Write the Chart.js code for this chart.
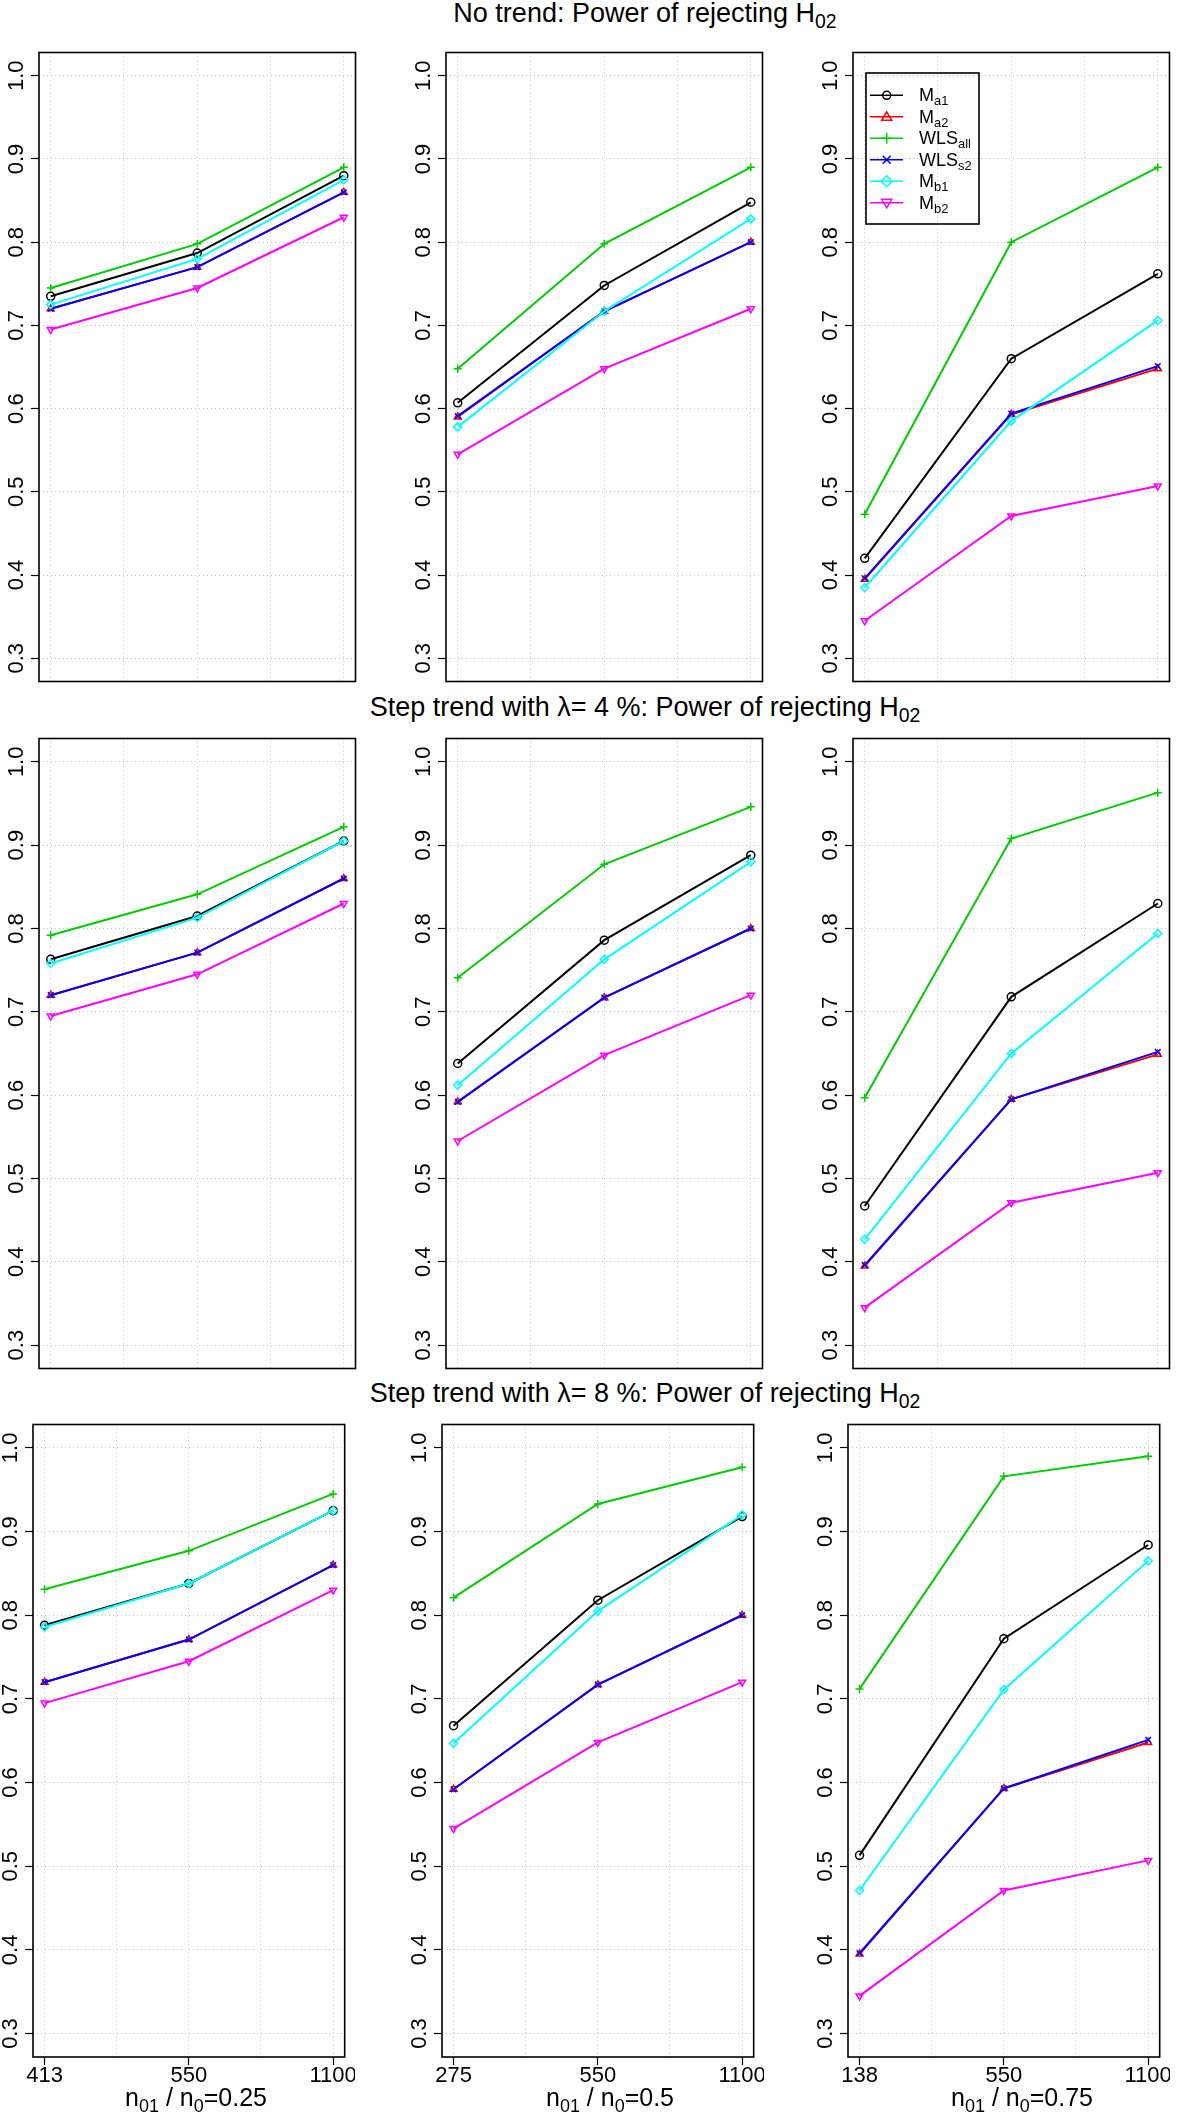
<!DOCTYPE html>
<html>
<head>
<meta charset="utf-8">
<script src="https://cdn.jsdelivr.net/npm/chart.js@4.4.1/dist/chart.umd.min.js"></script>
<style>
  body { margin: 0; background: #fff; width: 1181px; height: 2112px; position: relative; overflow: hidden;
         font-family: "Liberation Sans", Arial, Helvetica, sans-serif; color: #000; }
  canvas { position: absolute; }
  .rowTitle { position: absolute; font-size: 27px; line-height: 1; white-space: nowrap; transform: translateX(-50%); }
  .xTitle   { position: absolute; font-size: 25px; line-height: 1; white-space: nowrap; transform: translateX(-50%); }
  .legLabel { position: absolute; font-size: 18px; line-height: 1; white-space: nowrap; }
  sub { font-size: 72%; vertical-align: baseline; position: relative; top: 0.32em; line-height: 0; }
  #legend { position: absolute; }
</style>
</head>
<body>
<script>
'use strict';

// ── DATA ─────────────────────────────────────────────────────────
// panels in reading order: row 1 (no trend), row 2 (λ=4%), row 3 (λ=8%); columns n01/n0 = 0.25, 0.5, 0.75
var rowTitles   = ['No trend: Power of rejecting H<sub>02</sub>',
                   'Step trend with λ= 4 %: Power of rejecting H<sub>02</sub>',
                   'Step trend with λ= 8 %: Power of rejecting H<sub>02</sub>'];
var ratioLabels = ['0.25', '0.5', '0.75'];
var xTickLabels = [['413', '550', '1100'], ['275', '550', '1100'], ['138', '550', '1100']];
var yTicks      = [0.3, 0.4, 0.5, 0.6, 0.7, 0.8, 0.9, 1.0];
var xGrid       = [1, 1.5, 2, 2.5, 3];

var Ma1 = [
  [0.735, 0.787, 0.880], [0.607, 0.748, 0.848], [0.420, 0.660, 0.762],
  [0.763, 0.815, 0.905], [0.638, 0.786, 0.888], [0.467, 0.718, 0.830],
  [0.788, 0.838, 0.925], [0.668, 0.818, 0.918], [0.513, 0.772, 0.884]
];
var Ma2 = [
  [0.720, 0.770, 0.860], [0.590, 0.717, 0.800], [0.395, 0.593, 0.648],
  [0.720, 0.771, 0.860], [0.592, 0.717, 0.800], [0.395, 0.595, 0.649],
  [0.720, 0.771, 0.860], [0.592, 0.717, 0.800], [0.395, 0.593, 0.648]
];
var WLSall = [
  [0.745, 0.798, 0.890], [0.648, 0.798, 0.890], [0.473, 0.800, 0.890],
  [0.792, 0.841, 0.922], [0.741, 0.877, 0.946], [0.597, 0.908, 0.963],
  [0.831, 0.877, 0.945], [0.821, 0.933, 0.977], [0.712, 0.966, 0.990]
];
var WLSs2 = [
  [0.720, 0.770, 0.860], [0.591, 0.717, 0.800], [0.396, 0.594, 0.651],
  [0.720, 0.771, 0.860], [0.592, 0.717, 0.800], [0.396, 0.595, 0.652],
  [0.720, 0.771, 0.860], [0.592, 0.717, 0.800], [0.396, 0.593, 0.651]
];
var Mb1 = [
  [0.725, 0.780, 0.875], [0.578, 0.717, 0.828], [0.385, 0.585, 0.706],
  [0.758, 0.813, 0.905], [0.612, 0.763, 0.880], [0.427, 0.650, 0.794],
  [0.786, 0.838, 0.925], [0.647, 0.805, 0.920], [0.471, 0.711, 0.865]
];
var Mb2 = [
  [0.695, 0.745, 0.830], [0.545, 0.648, 0.720], [0.345, 0.471, 0.507],
  [0.695, 0.745, 0.830], [0.545, 0.648, 0.720], [0.345, 0.471, 0.507],
  [0.695, 0.745, 0.830], [0.545, 0.648, 0.720], [0.345, 0.471, 0.507]
];

// ── SERIES STYLE ─────────────────────────────────────────────────
var seriesValues = [Ma1, Ma2, WLSall, WLSs2, Mb1, Mb2];
var seriesLabels = ['M<sub>a1</sub>', 'M<sub>a2</sub>', 'WLS<sub>all</sub>', 'WLS<sub>s2</sub>', 'M<sub>b1</sub>', 'M<sub>b2</sub>'];
var seriesColors = ['#000000', '#ff0000', '#00cd00', '#0000ff', '#00ffff', '#ff00ff'];
var seriesPoints = ['circle', 'triangle', 'cross', 'crossRot', 'rectRot', 'triangle'];
var seriesRot    = [0, 0, 0, 0, 0, 180];

// ── LAYOUT ───────────────────────────────────────────────────────
var ROW_TOP    = [50, 736, 1422];
var ROW_BOTTOM = [684, 1371, 2057];
var COL_LEFT   = [[39, 446, 853], [39, 446, 853], [33, 442, 848]];
var PANEL_W    = 319;
var Y_W        = 40;    // room for y labels
var X_H        = 40;    // room for x labels (bottom row)
var PAD        = 3;
var TITLE_MID  = [13, 707, 1393];
var XTITLE_X   = [196, 610, 1022];
var FONT       = "'Liberation Sans', Arial, Helvetica, sans-serif";

Chart.defaults.font.family = FONT;
Chart.defaults.color = '#000';

var gridColor = '#c4c4c4';

// box round the plot + rotated y labels
var panelPlugin = {
  id: 'panelPlugin',
  afterDraw: function (chart) {
    var ctx  = chart.ctx;
    var area = chart.chartArea;
    var ys   = chart.scales.y;
    ctx.save();
    ctx.strokeStyle = '#000';
    ctx.lineWidth = 1.6;
    ctx.setLineDash([]);
    ctx.strokeRect(area.left, area.top, area.right - area.left, area.bottom - area.top);

    ctx.fillStyle = '#000';
    ctx.font = '22px ' + FONT;
    ctx.textAlign = 'center';
    ctx.textBaseline = 'middle';
    yTicks.forEach(function (v) {
      var py = ys.getPixelForValue(v);
      ctx.save();
      ctx.translate(area.left - 22, py);
      ctx.rotate(-Math.PI / 2);
      ctx.fillText(v.toFixed(1), 0, 0);
      ctx.restore();
    });
    ctx.restore();
  }
};

function makePanel(r, c) {
  var idx      = r * 3 + c;
  var bottom   = r === 2;
  var panelH   = ROW_BOTTOM[r] - ROW_TOP[r];
  var canvas   = document.createElement('canvas');
  var w        = Y_W + PANEL_W + PAD;
  var h        = PAD + panelH + (bottom ? X_H : PAD);
  canvas.width  = w;
  canvas.height = h;
  canvas.style.left = (COL_LEFT[r][c] - Y_W) + 'px';
  canvas.style.top  = (ROW_TOP[r] - PAD) + 'px';
  document.body.appendChild(canvas);

  var datasets = seriesValues.map(function (vals, s) {
    return {
      data: vals[idx].map(function (v, i) { return { x: i + 1, y: v }; }),
      borderColor: seriesColors[s],
      borderWidth: 2,
      pointStyle: seriesPoints[s],
      pointRotation: seriesRot[s],
      pointRadius: 4,
      pointBorderWidth: 1.5,
      pointBorderColor: seriesColors[s],
      pointBackgroundColor: 'rgba(0,0,0,0)',
      tension: 0,
      fill: false,
      order: 5 - s
    };
  });

  new Chart(canvas.getContext('2d'), {
    type: 'line',
    data: { datasets: datasets },
    options: {
      responsive: false,
      animation: false,
      devicePixelRatio: 1,
      layout: { padding: { top: PAD, right: PAD, bottom: bottom ? 0 : PAD, left: 0 } },
      plugins: { legend: { display: false }, tooltip: { enabled: false } },
      scales: {
        x: {
          type: 'linear', min: 0.92, max: 3.08,
          afterBuildTicks: function (s) { s.ticks = xGrid.map(function (v) { return { value: v }; }); },
          afterFit: function (s) { s.height = bottom ? X_H : 0; },
          border: { display: false, dash: [1, 3] },
          grid: {
            color: gridColor, lineWidth: 1,
            drawTicks: bottom, tickLength: 8, tickWidth: 1.2, tickBorderDash: [],
            tickColor: function (ctx) { return Number.isInteger(ctx.tick && ctx.tick.value) ? '#000' : 'rgba(0,0,0,0)'; }
          },
          ticks: {
            display: bottom, autoSkip: false, maxRotation: 0, minRotation: 0, padding: -2,
            font: { size: 22 }, color: '#000',
            callback: function (v) { return Number.isInteger(v) ? xTickLabels[c][v - 1] : ''; }
          }
        },
        y: {
          type: 'linear', min: 0.272, max: 1.028,
          afterBuildTicks: function (s) { s.ticks = yTicks.map(function (v) { return { value: v }; }); },
          afterFit: function (s) { s.width = Y_W; },
          border: { display: false, dash: [1, 3] },
          grid: {
            color: gridColor, lineWidth: 1,
            drawTicks: true, tickLength: 8, tickWidth: 1.2, tickColor: '#000', tickBorderDash: []
          },
          ticks: { display: false }
        }
      }
    },
    plugins: [panelPlugin]
  });
}

for (var r = 0; r < 3; r++) {
  for (var c = 0; c < 3; c++) makePanel(r, c);
}

// ── TITLES ───────────────────────────────────────────────────────
rowTitles.forEach(function (t, r) {
  var d = document.createElement('div');
  d.className = 'rowTitle';
  d.innerHTML = t;
  d.style.left = '645px';
  d.style.top  = (TITLE_MID[r] - 13) + 'px';
  document.body.appendChild(d);
});

ratioLabels.forEach(function (lab, c) {
  var d = document.createElement('div');
  d.className = 'xTitle';
  d.innerHTML = 'n<sub>01</sub> / n<sub>0</sub>=' + lab;
  d.style.left = XTITLE_X[c] + 'px';
  d.style.top  = '2085px';
  document.body.appendChild(d);
});

// ── LEGEND (row 1, col 3) ────────────────────────────────────────
(function buildLegend() {
  var L = 866, T = 73, W = 113, H = 151;
  var ns = 'http://www.w3.org/2000/svg';
  var svg = document.createElementNS(ns, 'svg');
  svg.setAttribute('id', 'legend');
  svg.setAttribute('width', W + 4);
  svg.setAttribute('height', H + 4);
  svg.style.left = (L - 2) + 'px';
  svg.style.top  = (T - 2) + 'px';
  var html = '<rect x="2" y="2" width="' + W + '" height="' + H + '" fill="none" stroke="#000" stroke-width="1.6"/>';
  seriesLabels.forEach(function (lab, s) {
    var cy = 2 + 22.3 + s * 21.5;
    var col = seriesColors[s];
    var cx = 2 + 20.7;
    html += '<line x1="6" x2="39" y1="' + cy + '" y2="' + cy + '" stroke="' + col + '" stroke-width="1.6"/>';
    var m = '';
    if (s === 0) m = '<circle cx="' + cx + '" cy="' + cy + '" r="4" fill="none"/>';
    if (s === 1) m = '<polygon points="' + cx + ',' + (cy - 5) + ' ' + (cx + 5) + ',' + (cy + 3.5) + ' ' + (cx - 5) + ',' + (cy + 3.5) + '" fill="none"/>';
    if (s === 2) m = '<path d="M' + (cx - 5.5) + ' ' + cy + 'H' + (cx + 5.5) + 'M' + cx + ' ' + (cy - 5.5) + 'V' + (cy + 5.5) + '" fill="none"/>';
    if (s === 3) m = '<path d="M' + (cx - 4) + ' ' + (cy - 4) + 'L' + (cx + 4) + ' ' + (cy + 4) + 'M' + (cx + 4) + ' ' + (cy - 4) + 'L' + (cx - 4) + ' ' + (cy + 4) + '" fill="none"/>';
    if (s === 4) m = '<polygon points="' + cx + ',' + (cy - 5.5) + ' ' + (cx + 5.5) + ',' + cy + ' ' + cx + ',' + (cy + 5.5) + ' ' + (cx - 5.5) + ',' + cy + '" fill="none"/>';
    if (s === 5) m = '<polygon points="' + cx + ',' + (cy + 5) + ' ' + (cx + 5) + ',' + (cy - 3.5) + ' ' + (cx - 5) + ',' + (cy - 3.5) + '" fill="none"/>';
    html += '<g stroke="' + col + '" stroke-width="1.5">' + m + '</g>';

    var sp = document.createElement('div');
    sp.className = 'legLabel';
    sp.innerHTML = lab;
    sp.style.left = '919px';
    sp.style.top  = (T + cy - 2 - 9) + 'px';
    document.body.appendChild(sp);
  });
  svg.innerHTML = html;
  document.body.appendChild(svg);
})();
</script>
</body>
</html>
